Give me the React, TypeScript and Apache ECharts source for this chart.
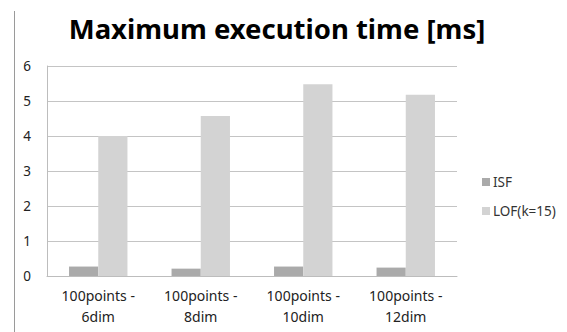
import React, { useEffect, useRef } from "react";
import * as echarts from "echarts";

const categories = ["100points -\n6dim", "100points -\n8dim", "100points -\n10dim", "100points -\n12dim"];
const isfValues = [0.27, 0.21, 0.27, 0.24];
const lofValues = [4.0, 4.57, 5.48, 5.18];
const seriesNames = ["ISF", "LOF(k=15)"];
const titleText = "Maximum execution time [ms]";

export default function App() {
  const ref = useRef<HTMLDivElement>(null);
  useEffect(() => {
    const chart = echarts.init(ref.current!, null, { renderer: "svg" });
    const font = "'Noto Sans', sans-serif";
    chart.setOption({
      animation: false,
      backgroundColor: "#ffffff",
      title: {
        text: titleText,
        left: 272,
        textAlign: "center",
        top: 9,
        textStyle: { fontFamily: font, fontSize: 27.5, fontWeight: "bold", color: "#000000" },
      },
      grid: { left: 47, right: 110, top: 66, bottom: 56, containLabel: false },
      legend: {
        orient: "vertical",
        left: 477,
        top: 170,
        itemWidth: 8,
        itemHeight: 8,
        itemGap: 15,
        icon: "rect",
        textStyle: { fontFamily: font, fontSize: 13.5, color: "#333333", padding: [0, 0, 0, -2] },
        data: seriesNames,
      },
      xAxis: {
        type: "category",
        data: categories,
        axisLine: { show: true, lineStyle: { color: "#bdbdbd", width: 1 } },
        axisTick: { show: false },
        axisLabel: { fontFamily: font, fontSize: 14, color: "#222222", lineHeight: 21, margin: 9, interval: 0 },
      },
      yAxis: {
        type: "value",
        min: 0,
        max: 6,
        interval: 1,
        axisLine: { show: true, lineStyle: { color: "#bdbdbd", width: 1 } },
        axisTick: { show: false },
        axisLabel: { fontFamily: font, fontSize: 13.5, color: "#222222", margin: 16 },
        splitLine: { show: true, lineStyle: { color: "#c4c4c4", width: 1 } },
      },
      series: [
        {
          name: seriesNames[0],
          type: "bar",
          data: isfValues,
          itemStyle: { color: "#aaaaaa" },
          barGap: "0%",
          barCategoryGap: "43%",
        },
        {
          name: seriesNames[1],
          type: "bar",
          data: lofValues,
          itemStyle: { color: "#d3d3d3" },
          barGap: "0%",
          barCategoryGap: "43%",
        },
      ],
      graphic: [
        {
          type: "line",
          shape: { x1: 14.5, y1: 11, x2: 14.5, y2: 332 },
          style: { stroke: "#9a9a9a", lineWidth: 1 },
        },
      ],
    });
    return () => chart.dispose();
  }, []);
  return <div ref={ref} style={{ position: "fixed", left: 0, top: 0, width: 567, height: 332 }} />;
}
